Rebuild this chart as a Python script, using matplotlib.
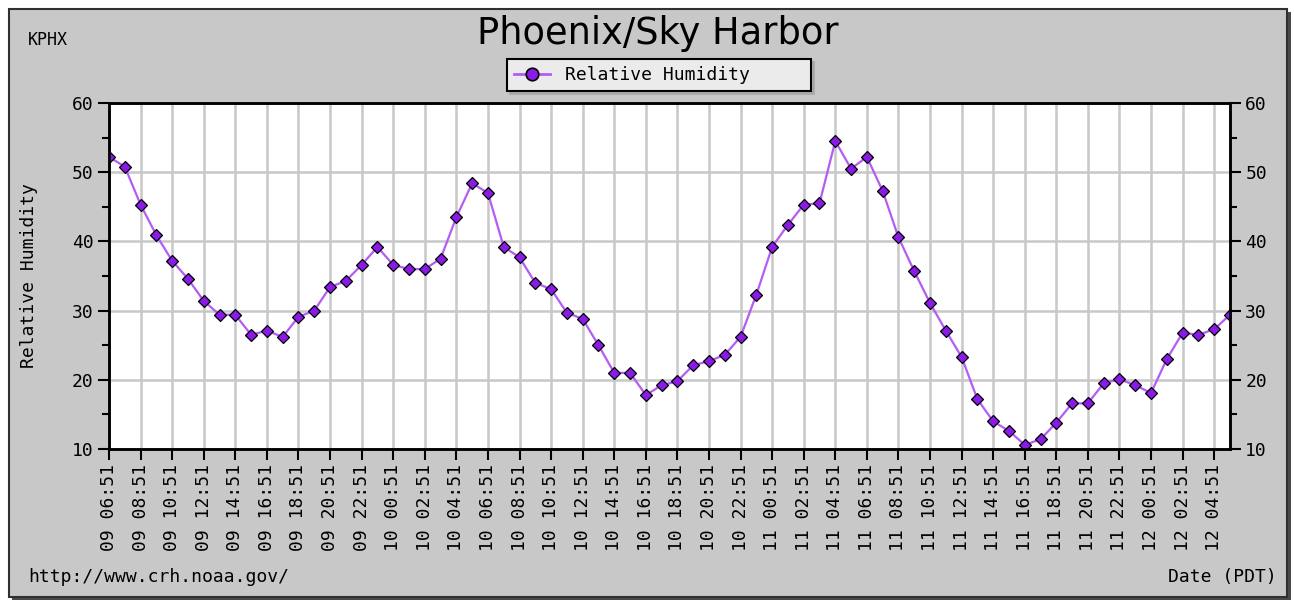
import matplotlib
matplotlib.use("Agg")
import matplotlib.pyplot as plt
from matplotlib.patches import Rectangle
from matplotlib.lines import Line2D
from matplotlib.ticker import MultipleLocator, FixedLocator

# ---- data ----
rh = [52.2, 50.8, 45.3, 40.9, 37.2, 34.6, 31.4, 29.4, 29.4, 26.5, 27.1, 26.2,
      29.1, 30.0, 33.4, 34.3, 36.6, 39.2, 36.6, 36.0, 36.0, 37.5, 43.5, 48.4,
      47.0, 39.2, 37.7, 34.0, 33.1, 29.7, 28.8, 25.0, 21.0, 21.0, 17.8, 19.2,
      19.8, 22.1, 22.7, 23.6, 26.2, 32.3, 39.2, 42.4, 45.3, 45.5, 54.5, 50.5,
      52.2, 47.3, 40.6, 35.7, 31.1, 27.1, 23.3, 17.2, 14.0, 12.6, 10.6, 11.4,
      13.8, 16.6, 16.6, 19.5, 20.1, 19.2, 18.1, 23.0, 26.8, 26.5, 27.3, 29.4]

tick_days = ['09'] * 9 + ['10'] * 12 + ['11'] * 12 + ['12'] * 3
tick_times = ['06:51', '08:51', '10:51', '12:51', '14:51', '16:51', '18:51', '20:51', '22:51',
              '00:51', '02:51', '04:51', '06:51', '08:51', '10:51', '12:51', '14:51', '16:51',
              '18:51', '20:51', '22:51',
              '00:51', '02:51', '04:51', '06:51', '08:51', '10:51', '12:51', '14:51', '16:51',
              '18:51', '20:51', '22:51',
              '00:51', '02:51', '04:51']
tick_labels = [f"{d} {t}" for d, t in zip(tick_days, tick_times)]

title = "Phoenix/Sky Harbor"
station = "KPHX"
series_name = "Relative Humidity"
ylabel = "Relative Humidity"
xlabel = "Date (PDT)"
source = "http://www.crh.noaa.gov/"

# ---- style ----
W, H = 1294, 602
BG = "#c8c8c8"
GRID = "#c8c8c8"
LINE = "#b45cf5"
MFACE = "#8a1be6"
MONO = "DejaVu Sans Mono"
FS = 13

fig = plt.figure(figsize=(W / 100, H / 100), dpi=100, facecolor="white")

def px(x0, y0, x1, y1):
    return (x0 / W, 1 - y1 / H, (x1 - x0) / W, (y1 - y0) / H)

# outer frame with shadow
sx, sy, sw, sh = px(12, 12, 1291, 600)
fig.add_artist(Rectangle((sx, sy), sw, sh, transform=fig.transFigure,
                         facecolor="#4a4a4a", edgecolor="none", zorder=-3))
fx, fy, fw, fh = px(9, 9, 1287, 597)
fig.add_artist(Rectangle((fx, fy), fw, fh, transform=fig.transFigure,
                         facecolor=BG, edgecolor="#303030", linewidth=1.5, zorder=-2))

ax = fig.add_axes(px(109, 103, 1230, 449))
ax.set_facecolor("white")

x = list(range(len(rh)))
ax.plot(x, rh, color=LINE, linewidth=1.6, zorder=3)
ax.plot(x, rh, linestyle="none", marker="D", markersize=6,
        markerfacecolor=MFACE, markeredgecolor="black", markeredgewidth=0.9, zorder=4)

ax.set_xlim(0, len(rh) - 1)
ax.set_ylim(10, 60)

tick_pos = list(range(0, 2 * len(tick_labels), 2))
ax.xaxis.set_major_locator(FixedLocator(tick_pos))
ax.set_xticklabels(tick_labels, rotation=90, fontfamily=MONO, fontsize=FS)
ax.yaxis.set_major_locator(MultipleLocator(10))
ax.yaxis.set_minor_locator(MultipleLocator(5))

ax.grid(True, which="major", axis="both", color=GRID, linewidth=1.8, zorder=0)
ax.set_axisbelow(True)

for lab in ax.get_yticklabels():
    lab.set_fontfamily(MONO)
    lab.set_fontsize(FS)
ax.tick_params(axis="both", which="major", direction="out", length=8, width=1.5,
               color="black", labelcolor="black", pad=3)
ax.tick_params(axis="y", which="minor", direction="out", length=5, width=1.5)
for s in ax.spines.values():
    s.set_linewidth(1.8)
    s.set_color("black")

ax2 = ax.twinx()
ax2.set_ylim(10, 60)
ax2.yaxis.set_major_locator(MultipleLocator(10))
ax2.yaxis.set_minor_locator(MultipleLocator(5))
ax2.tick_params(axis="y", which="major", direction="out", length=8, width=1.5, pad=3)
ax2.tick_params(axis="y", which="minor", direction="out", length=5, width=1.5)
for lab in ax2.get_yticklabels():
    lab.set_fontfamily(MONO)
    lab.set_fontsize(FS)
for s in ax2.spines.values():
    s.set_linewidth(1.8)

ax.set_ylabel(ylabel, fontfamily=MONO, fontsize=FS)
ax.yaxis.set_label_coords(-71 / 1121, 0.5)

fig.text(658 / W, 1 - 33 / H, title, ha="center", va="center",
         fontfamily="DejaVu Sans", fontsize=26.5)
fig.text(28 / W, 1 - 40 / H, station, ha="left", va="center",
         fontfamily=MONO, fontsize=FS - 1)
fig.text(28 / W, 1 - 577 / H, source, ha="left", va="center",
         fontfamily=MONO, fontsize=FS)
fig.text(1277 / W, 1 - 577 / H, xlabel, ha="right", va="center",
         fontfamily=MONO, fontsize=FS)

handle = Line2D([0], [0], color=LINE, linewidth=2, marker="o", markersize=9,
                markerfacecolor=MFACE, markeredgecolor="black", markeredgewidth=1.2)
leg = fig.legend([handle], [series_name + "     "], loc="center",
                 bbox_to_anchor=(659 / W, 1 - 75 / H),
                 prop={"family": MONO, "size": FS}, frameon=True, fancybox=False,
                 shadow={"color": "#9a9a9a"}, handlelength=2.0, handletextpad=0.8,
                 borderpad=0.4, borderaxespad=0)
leg.get_frame().set_facecolor("#ebebeb")
leg.get_frame().set_edgecolor("black")
leg.get_frame().set_linewidth(1.5)
leg.get_frame().set_alpha(1)

fig.savefig("out.png", dpi=100, facecolor=fig.get_facecolor())
